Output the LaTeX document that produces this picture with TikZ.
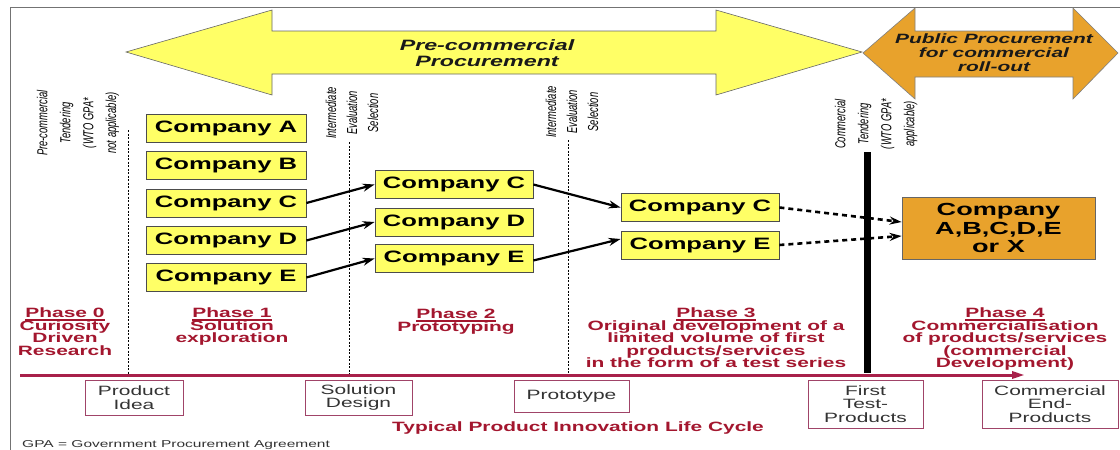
\documentclass[tikz,border=0pt]{standalone}
\usepackage{fontspec}
\setmainfont{Liberation Sans}[FakeStretch=1.55]
\newfontfamily\upfont{Liberation Sans}[FakeStretch=0.645]
\usetikzlibrary{arrows.meta}

\definecolor{procyellow}{HTML}{FFFF66}
\definecolor{procorange}{HTML}{E8A22C}
\definecolor{phasered}{HTML}{A3162E}
\definecolor{linered}{HTML}{A8204A}
\definecolor{boxred}{HTML}{A04468}

% underlined phase heading with a visible rule
\newsavebox\phasebox
\newcommand\phaseline[1]{\sbox\phasebox{#1}\rlap{\vrule height -1.4pt depth 2.8pt width \wd\phasebox}\usebox\phasebox}

\begin{document}
\lineskiplimit=-20pt\relax
\begin{tikzpicture}[x=1pt,y=-1pt,
  company/.style={draw=black!70, line width=0.8pt, fill=procyellow,
    minimum height=28pt, minimum width=158pt, inner sep=0pt,
    font=\fontsize{16.5}{18}\selectfont\bfseries},
  phase/.style={align=center, text=phasered, inner sep=0pt, anchor=north,
    font=\fontsize{13.5}{12.5}\selectfont\bfseries},
  lifebox/.style={draw=boxred, line width=1pt, fill=white, inner sep=0pt,
    align=center, text=black!80, font=\fontsize{13.5}{13.5}\selectfont},
  tender/.style={rotate=90, align=center, inner sep=0pt, text=black,
    font=\upfont\itshape\fontsize{14.5}{23}\selectfont},
  evaluation/.style={tender, font=\upfont\itshape\fontsize{14.5}{21}\selectfont},
  arrowtext/.style={align=center, inner sep=0pt, text=black!90},
  gate/.style={draw=black, line width=0.8pt, dash pattern=on 2pt off 1.5pt},
  selectarrow/.style={draw=black, line width=2.2pt, -{Stealth[length=12pt,width=8pt]}},
  awardarrow/.style={draw=black, line width=2.6pt, dash pattern=on 5pt off 4pt,
    -{Stealth[length=12pt,width=8pt]}}
]
\useasboundingbox (0,0) rectangle (1120,450);

% outer frame (left and top edges)
\draw[black!55, line width=0.8pt] (10,450) -- (10,7) -- (1120,7);

% pre-commercial procurement double arrow
\draw[fill=procyellow, draw=black!60, line width=0.6pt]
  (126,52) -- (272,10) -- (272,31) -- (716,31) -- (716,10) -- (862,52)
  -- (716,95) -- (716,74) -- (272,74) -- (272,95) -- cycle;
\node[arrowtext, font=\fontsize{15}{16.5}\selectfont\bfseries\itshape] (pcp) at (487,53)
  {Pre-commercial\\Procurement};

% public procurement double arrow
\draw[fill=procorange, draw=black!50, line width=0.6pt]
  (863,53) -- (915,8) -- (915,31) -- (1073,31) -- (1073,8) -- (1118,53)
  -- (1073,99) -- (1073,77) -- (915,77) -- (915,99) -- cycle;
\node[arrowtext, font=\fontsize{13.5}{14}\selectfont\bfseries\itshape] (ppc) at (994,53)
  {Public Procurement\\for commercial\\roll-out};

% tendering and evaluation labels
\node[tender] (t0) at (78,123) {Pre-commercial\\Tendering\\(WTO GPA*\\not applicable)};
\node[evaluation] (t1) at (352,113) {Intermediate\\Evaluation\\Selection};
\node[evaluation] (t2) at (572,112) {Intermediate\\Evaluation\\Selection};
\node[tender] (t3) at (876,124) {Commercial\\Tendering\\(WTO GPA*\\applicable)};

% gates between phases
\coordinate (g0a) at (128,130); \coordinate (g0b) at (128,375);
\coordinate (g1a) at (349,142); \coordinate (g1b) at (349,375);
\coordinate (g2a) at (568,140); \coordinate (g2b) at (568,375);
\coordinate (g3a) at (867,152); \coordinate (g3b) at (867,373);
\draw[gate] (g0a) -- (g0b);
\draw[gate] (g1a) -- (g1b);
\draw[gate] (g2a) -- (g2b);
\draw[black, line width=7pt] (g3a) -- (g3b);

% companies: solution exploration
\node[company, minimum width=160pt] (c1a) at (226,128)   {Company A};
\node[company, minimum width=160pt] (c1b) at (226,165.5) {Company B};
\node[company, minimum width=160pt] (c1c) at (226,203)   {Company C};
\node[company, minimum width=160pt] (c1d) at (226,240.5) {Company D};
\node[company, minimum width=160pt] (c1e) at (226,277.5) {Company E};

% companies: prototyping
\node[company] (c2c) at (454,184.5) {Company C};
\node[company] (c2d) at (454,222)   {Company D};
\node[company] (c2e) at (454,258.5) {Company E};

% companies: test series
\node[company] (c3c) at (700,207.5) {Company C};
\node[company] (c3e) at (700,245)   {Company E};

% commercial supplier
\node[draw=black!60, line width=0.8pt, fill=procorange, minimum width=193pt,
  minimum height=62pt, inner sep=0pt, align=center,
  font=\fontsize{17.5}{18.3}\selectfont\bfseries] (fin) at (998.5,228)
  {Company\\A,B,C,D,E\\or X};

% selection arrows
\draw[selectarrow] (c1c.east) -- (c2c.west);
\draw[selectarrow] (c1d.east) -- (c2d.west);
\draw[selectarrow] (c1e.east) -- (c2e.west);
\draw[selectarrow] (c2c.east) -- (c3c.west);
\draw[selectarrow] ([yshift=-2pt]c2e.east) -- ([yshift=6pt]c3e.west);
\draw[awardarrow] (c3c.east) -- ([yshift=6pt]fin.west);
\draw[awardarrow] (c3e.east) -- ([yshift=-8pt]fin.west);

% phase descriptions
\node[phase] (p0) at (65,308)  {\phaseline{Phase 0}\\Curiosity\\Driven\\Research};
\node[phase] (p1) at (232,308) {\phaseline{Phase 1}\\Solution\\exploration};
\node[phase] (p2) at (456,309) {\phaseline{Phase 2}\\Prototyping};
\node[phase] (p3) at (716,308) {\phaseline{Phase 3}\\Original development of a\\limited volume of first\\products/services\\in the form of a test series};
\node[phase] (p4) at (1005,308) {\phaseline{Phase 4}\\Commercialisation\\of products/services\\(commercial\\Development)};

% life cycle time line
\coordinate (tl0) at (20,375);
\coordinate (tl1) at (1025,375);
\draw[linered, line width=3pt, -{Triangle[length=13pt,width=7pt]}] (tl0) -- (tl1);

% life cycle stages
\node[lifebox, minimum width=98pt,  minimum height=35pt] (s0) at (134,397.5)  {Product\\Idea};
\node[lifebox, minimum width=107pt, minimum height=35pt] (s1) at (358.5,397.5) {Solution\\Design};
\node[lifebox, minimum width=115pt, minimum height=32pt] (s2) at (571.5,396)   {Prototype};
\node[lifebox, minimum width=115pt, minimum height=48pt] (s3) at (865.5,404)   {First\\Test-\\Products};
\node[lifebox, minimum width=136pt, minimum height=48pt] (s4) at (1050,404)    {Commercial\\End-\\Products};

\node[text=phasered, inner sep=0pt, font=\fontsize{13.5}{14}\selectfont\bfseries] (cycle) at (578,428)
  {Typical Product Innovation Life Cycle};
\node[text=black!80, inner sep=0pt, anchor=base west, font=\fontsize{10}{12}\selectfont] (gpa) at (22,447)
  {GPA = Government Procurement Agreement};
\end{tikzpicture}
\end{document}
